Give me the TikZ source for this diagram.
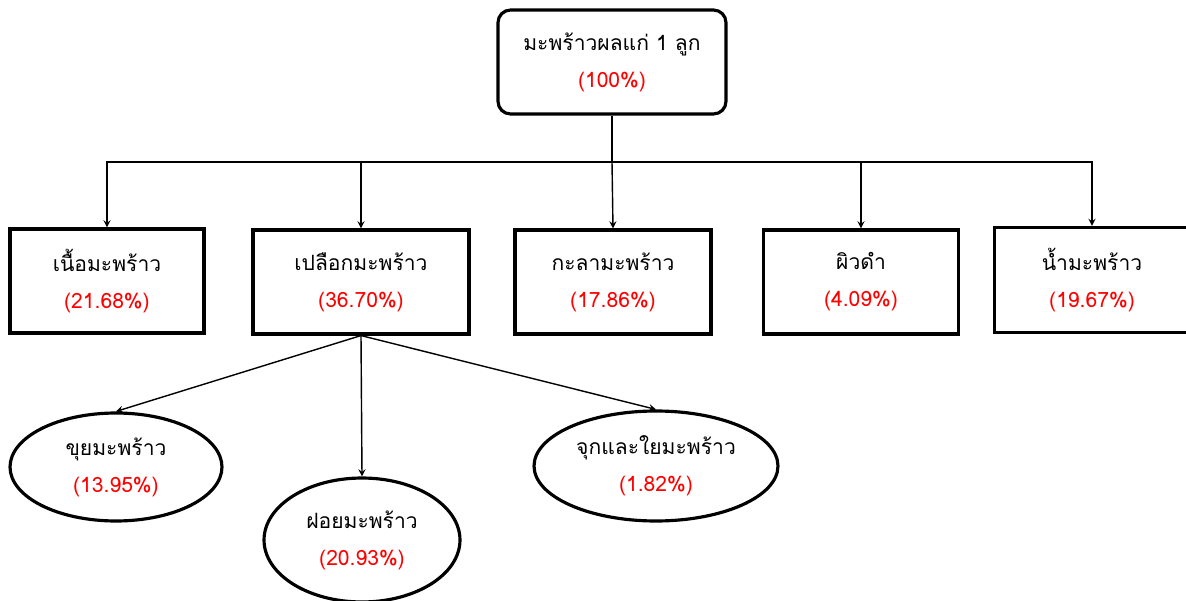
\documentclass[tikz,border=0pt]{standalone}
\usepackage{fontspec}
\setmainfont[Script=Thai]{Loma}
\usepackage{xcolor}
\usetikzlibrary{arrows}
\usetikzlibrary{shapes.geometric}
\newcommand{\pct}[1]{\textcolor{red}{(#1)}}

\begin{document}
\begin{tikzpicture}[x=0.02cm,y=-0.02cm,
  part/.style={draw,line width=1.8pt,align=center,minimum height=2.08cm,
    font=\fontsize{12}{21}\selectfont},
  subpart/.style={part,ellipse,inner sep=0pt},
  link/.style={line width=0.8pt}]
  \useasboundingbox (0,0) rectangle (1186,601);
  \node[part,rounded corners=0.25cm,minimum width=4.56cm] (whole) at (612,62)
    {มะพร้าวผลแก่ 1 ลูก\\\pct{100\%}};
  \node[part,minimum width=3.88cm] (meat) at (107,281) {เนื้อมะพร้าว\\\pct{21.68\%}};
  \node[part,minimum width=4.32cm] (husk) at (361,282) {เปลือกมะพร้าว\\\pct{36.70\%}};
  \node[part,minimum width=3.92cm] (shell) at (613,282) {กะลามะพร้าว\\\pct{17.86\%}};
  \node[part,minimum width=3.9cm] (skin) at (861,282) {ผิวดำ\\\pct{4.09\%}};
  \node[part,minimum width=3.9cm,minimum height=2.1cm] (water) at (1092,280) {น้ำมะพร้าว\\\pct{19.67\%}};
  \node[subpart,minimum width=4.24cm,minimum height=2.16cm] (dust) at (116,467) {ขุยมะพร้าว\\\pct{13.95\%}};
  \node[subpart,minimum width=3.92cm,minimum height=2.48cm] (fibre) at (362,540) {ฝอยมะพร้าว\\\pct{20.93\%}};
  \node[subpart,minimum width=4.88cm,minimum height=2.2cm] (tip) at (656,466) {จุกและใยมะพร้าว\\\pct{1.82\%}};
  \coordinate (bus) at (612,162);
  \draw[link] (whole) -- (bus);
  \path[link,-stealth]
    (bus) edge[to path={-| (\tikztotarget)}] (meat.north)
    (bus) edge[to path={-| (\tikztotarget)}] (husk.north)
    (bus) edge (shell.north)
    (bus) edge[to path={-| (\tikztotarget)}] (skin.north)
    (bus) edge[to path={-| (\tikztotarget)}] (water.north)
    (husk.south) edge (dust.north)
    (husk.south) edge (fibre.north)
    (husk.south) edge (tip.north);
\end{tikzpicture}
\end{document}
